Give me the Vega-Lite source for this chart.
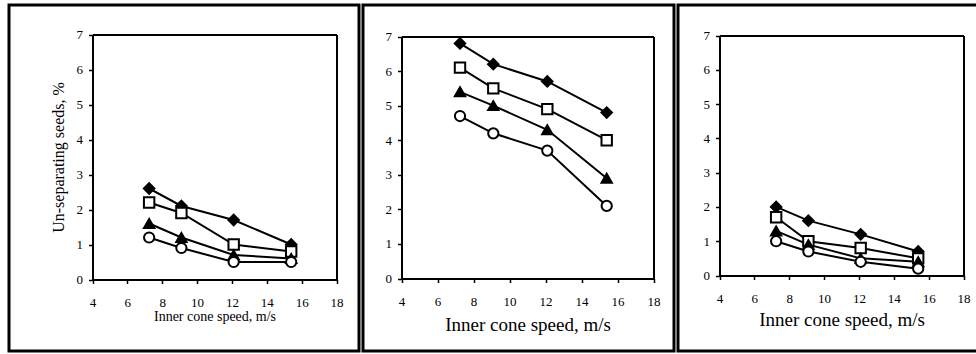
{
  "$schema": "https://vega.github.io/schema/vega-lite/v6.json",
  "padding": {"left": 7, "top": 3, "right": 0, "bottom": 0},
  "spacing": 0,
  "background": "white",
  "config": {
    "view": {"stroke": "black", "strokeWidth": 3},
    "font": "Liberation Serif",
    "axis": {
      "grid": false,
      "domainColor": "black",
      "domainWidth": 2,
      "tickColor": "black",
      "tickWidth": 1.5,
      "tickSize": 4,
      "labelColor": "black",
      "labelFont": "Liberation Serif",
      "labelFontSize": 13,
      "labelFlush": false,
      "labelOverlap": false,
      "titleColor": "black",
      "titleFont": "Liberation Serif",
      "titleFontWeight": "normal"
    }
  },
  "data": {
    "values": [
      {"panel": "a", "series": "S1", "speed": 7.25, "value": 2.6},
      {"panel": "a", "series": "S1", "speed": 9.1, "value": 2.1},
      {"panel": "a", "series": "S1", "speed": 12.1, "value": 1.7},
      {"panel": "a", "series": "S1", "speed": 15.4, "value": 1.0},
      {"panel": "a", "series": "S2", "speed": 7.25, "value": 2.2},
      {"panel": "a", "series": "S2", "speed": 9.1, "value": 1.9},
      {"panel": "a", "series": "S2", "speed": 12.1, "value": 1.0},
      {"panel": "a", "series": "S2", "speed": 15.4, "value": 0.8},
      {"panel": "a", "series": "S3", "speed": 7.25, "value": 1.6},
      {"panel": "a", "series": "S3", "speed": 9.1, "value": 1.2},
      {"panel": "a", "series": "S3", "speed": 12.1, "value": 0.7},
      {"panel": "a", "series": "S3", "speed": 15.4, "value": 0.6},
      {"panel": "a", "series": "S4", "speed": 7.25, "value": 1.2},
      {"panel": "a", "series": "S4", "speed": 9.1, "value": 0.9},
      {"panel": "a", "series": "S4", "speed": 12.1, "value": 0.5},
      {"panel": "a", "series": "S4", "speed": 15.4, "value": 0.5},
      {"panel": "b", "series": "S1", "speed": 7.25, "value": 6.8},
      {"panel": "b", "series": "S1", "speed": 9.1, "value": 6.2},
      {"panel": "b", "series": "S1", "speed": 12.1, "value": 5.7},
      {"panel": "b", "series": "S1", "speed": 15.4, "value": 4.8},
      {"panel": "b", "series": "S2", "speed": 7.25, "value": 6.1},
      {"panel": "b", "series": "S2", "speed": 9.1, "value": 5.5},
      {"panel": "b", "series": "S2", "speed": 12.1, "value": 4.9},
      {"panel": "b", "series": "S2", "speed": 15.4, "value": 4.0},
      {"panel": "b", "series": "S3", "speed": 7.25, "value": 5.4},
      {"panel": "b", "series": "S3", "speed": 9.1, "value": 5.0},
      {"panel": "b", "series": "S3", "speed": 12.1, "value": 4.3},
      {"panel": "b", "series": "S3", "speed": 15.4, "value": 2.9},
      {"panel": "b", "series": "S4", "speed": 7.25, "value": 4.7},
      {"panel": "b", "series": "S4", "speed": 9.1, "value": 4.2},
      {"panel": "b", "series": "S4", "speed": 12.1, "value": 3.7},
      {"panel": "b", "series": "S4", "speed": 15.4, "value": 2.1},
      {"panel": "c", "series": "S1", "speed": 7.25, "value": 2.0},
      {"panel": "c", "series": "S1", "speed": 9.1, "value": 1.6},
      {"panel": "c", "series": "S1", "speed": 12.1, "value": 1.2},
      {"panel": "c", "series": "S1", "speed": 15.4, "value": 0.7},
      {"panel": "c", "series": "S2", "speed": 7.25, "value": 1.7},
      {"panel": "c", "series": "S2", "speed": 9.1, "value": 1.0},
      {"panel": "c", "series": "S2", "speed": 12.1, "value": 0.8},
      {"panel": "c", "series": "S2", "speed": 15.4, "value": 0.5},
      {"panel": "c", "series": "S3", "speed": 7.25, "value": 1.3},
      {"panel": "c", "series": "S3", "speed": 9.1, "value": 0.9},
      {"panel": "c", "series": "S3", "speed": 12.1, "value": 0.5},
      {"panel": "c", "series": "S3", "speed": 15.4, "value": 0.4},
      {"panel": "c", "series": "S4", "speed": 7.25, "value": 1.0},
      {"panel": "c", "series": "S4", "speed": 9.1, "value": 0.7},
      {"panel": "c", "series": "S4", "speed": 12.1, "value": 0.4},
      {"panel": "c", "series": "S4", "speed": 15.4, "value": 0.2}
    ]
  },
  "hconcat": [
    {
      "width": 350,
      "height": 346,
      "layer": [
        {
          "transform": [{"filter": "datum.panel == 'a'"}],
          "mark": {"type": "line", "color": "black", "strokeWidth": 2},
          "encoding": {
            "x": {"field": "speed", "type": "quantitative",
              "scale": {"domain": [4, 18], "range": [83.5, 327.5], "nice": false, "zero": false},
              "axis": {"orient": "bottom", "values": [4, 6, 8, 10, 12, 14, 16, 18], "offset": -71.5, "labelPadding": 13, "title": "Inner cone speed, m/s", "titleFontSize": 14, "titlePadding": 0}},
            "y": {"field": "value", "type": "quantitative",
              "scale": {"domain": [0, 7], "range": [274.5, 29.5], "nice": false, "zero": false},
              "axis": {"orient": "left", "values": [0, 1, 2, 3, 4, 5, 6, 7], "offset": -83.5, "labelPadding": 6, "title": "Un-separating seeds, %", "titleFontSize": 16, "titlePadding": 10}},
            "detail": {"field": "series", "type": "nominal"}
          }
        },
        {
          "transform": [{"filter": "datum.panel == 'a'"}],
          "mark": {"type": "point", "filled": true, "stroke": "black", "strokeWidth": 2, "opacity": 1},
          "encoding": {
            "x": {"field": "speed", "type": "quantitative",
              "axis": {"orient": "top", "offset": -29.5, "labels": false, "ticks": false, "title": null}},
            "y": {"field": "value", "type": "quantitative",
              "axis": {"orient": "right", "offset": -22.5, "labels": false, "ticks": false, "title": null}},
            "shape": {"field": "series", "type": "nominal", "scale": {"domain": ["S1", "S2", "S3", "S4"], "range": ["diamond", "square", "triangle-up", "circle"]}, "legend": null},
            "fill": {"field": "series", "type": "nominal", "scale": {"domain": ["S1", "S2", "S3", "S4"], "range": ["black", "white", "black", "white"]}, "legend": null},
            "size": {"field": "series", "type": "nominal", "scale": {"domain": ["S1", "S2", "S3", "S4"], "range": [110, 105, 140, 120]}, "legend": null}
          }
        }
      ]
    },
    {
      "width": 311,
      "height": 346,
      "layer": [
        {
          "transform": [{"filter": "datum.panel == 'b'"}],
          "mark": {"type": "line", "color": "black", "strokeWidth": 2},
          "encoding": {
            "x": {"field": "speed", "type": "quantitative",
              "scale": {"domain": [4, 18], "range": [38.5, 290.5], "nice": false, "zero": false},
              "axis": {"orient": "bottom", "values": [4, 6, 8, 10, 12, 14, 16, 18], "offset": -72.5, "labelPadding": 13, "title": "Inner cone speed, m/s", "titleFontSize": 19, "titlePadding": 7}},
            "y": {"field": "value", "type": "quantitative",
              "scale": {"domain": [0, 7], "range": [273.5, 31.5], "nice": false, "zero": false},
              "axis": {"orient": "left", "values": [0, 1, 2, 3, 4, 5, 6, 7], "offset": -38.5, "labelPadding": 6, "title": null}},
            "detail": {"field": "series", "type": "nominal"}
          }
        },
        {
          "transform": [{"filter": "datum.panel == 'b'"}],
          "mark": {"type": "point", "filled": true, "stroke": "black", "strokeWidth": 2, "opacity": 1},
          "encoding": {
            "x": {"field": "speed", "type": "quantitative",
              "axis": {"orient": "top", "offset": -31.5, "labels": false, "ticks": false, "title": null}},
            "y": {"field": "value", "type": "quantitative",
              "axis": {"orient": "right", "offset": -20.5, "labels": false, "ticks": false, "title": null}},
            "shape": {"field": "series", "type": "nominal", "scale": {"domain": ["S1", "S2", "S3", "S4"], "range": ["diamond", "square", "triangle-up", "circle"]}, "legend": null},
            "fill": {"field": "series", "type": "nominal", "scale": {"domain": ["S1", "S2", "S3", "S4"], "range": ["black", "white", "black", "white"]}, "legend": null},
            "size": {"field": "series", "type": "nominal", "scale": {"domain": ["S1", "S2", "S3", "S4"], "range": [110, 105, 140, 120]}, "legend": null}
          }
        }
      ]
    },
    {
      "width": 299,
      "height": 346,
      "view": {"stroke": "black", "strokeWidth": 3, "strokeDash": [299, 346, 645]},
      "layer": [
        {
          "transform": [{"filter": "datum.panel == 'c'"}],
          "mark": {"type": "line", "color": "black", "strokeWidth": 2},
          "encoding": {
            "x": {"field": "speed", "type": "quantitative",
              "scale": {"domain": [4, 18], "range": [41.5, 285.5], "nice": false, "zero": false},
              "axis": {"orient": "bottom", "values": [4, 6, 8, 10, 12, 14, 16, 18], "offset": -75.5, "labelPadding": 13, "title": "Inner cone speed, m/s", "titleFontSize": 19, "titlePadding": 5}},
            "y": {"field": "value", "type": "quantitative",
              "scale": {"domain": [0, 7], "range": [270.5, 30.5], "nice": false, "zero": false},
              "axis": {"orient": "left", "values": [0, 1, 2, 3, 4, 5, 6, 7], "offset": -41.5, "labelPadding": 6, "title": null}},
            "detail": {"field": "series", "type": "nominal"}
          }
        },
        {
          "transform": [{"filter": "datum.panel == 'c'"}],
          "mark": {"type": "point", "filled": true, "stroke": "black", "strokeWidth": 2, "opacity": 1},
          "encoding": {
            "x": {"field": "speed", "type": "quantitative",
              "axis": {"orient": "top", "offset": -30.5, "labels": false, "ticks": false, "title": null}},
            "y": {"field": "value", "type": "quantitative",
              "axis": {"orient": "right", "offset": -13.5, "labels": false, "ticks": false, "title": null}},
            "shape": {"field": "series", "type": "nominal", "scale": {"domain": ["S1", "S2", "S3", "S4"], "range": ["diamond", "square", "triangle-up", "circle"]}, "legend": null},
            "fill": {"field": "series", "type": "nominal", "scale": {"domain": ["S1", "S2", "S3", "S4"], "range": ["black", "white", "black", "white"]}, "legend": null},
            "size": {"field": "series", "type": "nominal", "scale": {"domain": ["S1", "S2", "S3", "S4"], "range": [110, 105, 140, 120]}, "legend": null}
          }
        }
      ]
    }
  ]
}
